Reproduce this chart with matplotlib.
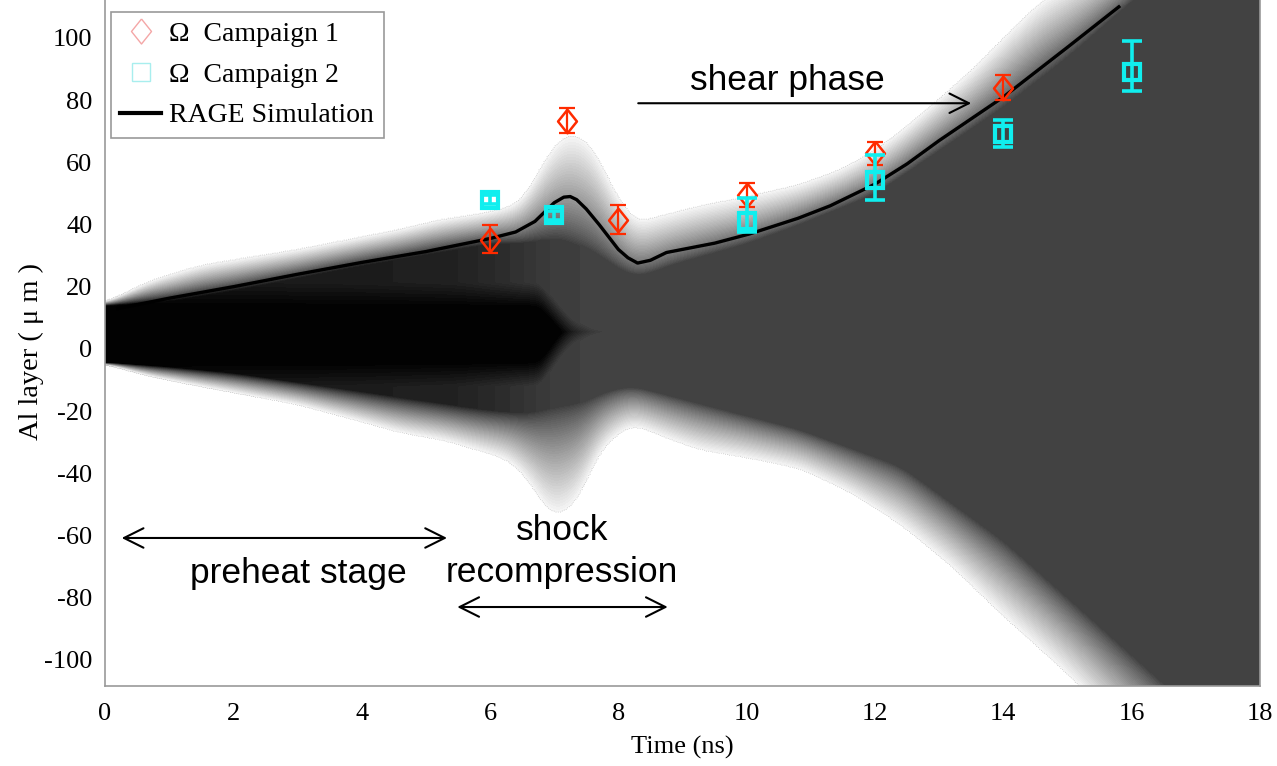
import numpy as np
import matplotlib.pyplot as plt
from matplotlib.lines import Line2D
from matplotlib.path import Path

# RAGE simulation (black line)
sim_t = [0.2, 1, 2, 3, 4, 5, 6, 6.4, 6.7, 6.85, 7.0, 7.15, 7.25, 7.35, 7.5, 7.7, 7.85, 8.0, 8.15, 8.3, 8.5, 8.75, 9.5, 10.05, 10.8, 11.3, 12, 12.5, 13, 13.5, 14, 14.5, 15, 15.8]
sim_y = [13, 16.3, 20, 24, 27.8, 31.3, 35.5, 37.6, 41, 44, 47, 48.8, 49, 48, 45, 40, 36, 32, 29.3, 27.6, 28.5, 31, 34, 37, 42, 46, 53, 59.5, 67, 74, 81, 89, 97, 110]

# Omega campaign 1 (red diamonds)
c1_t = [6, 7.2, 8, 10, 12, 14]
c1_y = [35, 73.3, 41.5, 49.5, 63, 84]
c1_lo = [4, 3.8, 4.5, 4, 4, 4]
c1_hi = [5, 4.2, 4.8, 3.8, 3.5, 4]

# Omega campaign 2 (cyan squares)
c2_t = [6, 7, 10, 12, 14, 16]
c2_y = [48, 43, 41, 54.3, 69, 89]
c2_lo = [1.5, 1.5, 3.5, 6.3, 4, 6]
c2_hi = [1.5, 1.5, 7.5, 8.1, 4.6, 10]

# background density field: edges of the mixing layer
up_t = [0, 0.7, 1.5, 3, 4.6, 5.2, 6, 6.5, 6.7, 7.0, 7.25, 7.6, 7.9, 8.26, 8.5, 9.27, 10.0, 10.8, 11.5, 12.0, 12.4, 12.8, 13.2, 13.6, 13.95, 14.6, 18]
up_out = [15, 22, 27, 32, 38.5, 41.5, 44, 47, 55, 66, 70, 66, 52, 40, 42, 46, 49, 52.7, 58, 64, 70, 77, 84, 91.5, 99, 112, 150]
upi_t = [0, 1, 2, 3, 4, 5, 6, 6.5, 7.1, 7.6, 8.0, 8.3, 8.8, 10, 10.8, 12, 13, 14, 15, 16, 18]
up_in = [14, 15.5, 19, 23, 27, 30.5, 34, 34, 36, 32, 26, 23, 27, 34, 40, 50, 64, 78, 94, 112, 145]

lo_t = [0, 0.7, 1.5, 3, 4, 4.6, 5.3, 6.3, 6.6, 6.9, 7.05, 7.4, 7.7, 8.2, 8.75, 9.27, 10.0, 10.83, 11.6, 12.4, 13.2, 13.95, 14.6, 15.2, 18]
lo_out = [-5, -9, -12.2, -18, -23.5, -27, -29.5, -35.7, -42, -52.7, -54.5, -48.5, -32.5, -24, -28.7, -32.5, -35, -38.5, -46, -56.5, -70, -85, -97, -108.5, -170]
loi_t = [0, 1, 2, 3, 4, 5, 6, 6.6, 7.0, 7.4, 7.8, 8.2, 8.75, 9.3, 10.8, 12.4, 14, 15.2, 16.5, 18]
lo_in = [-4.5, -6, -8, -11, -14, -17, -20, -21, -19, -18, -14, -12, -15, -18, -26, -38, -62, -84, -108, -135]

core_t = [0, 6.78, 7.12, 7.3, 7.6, 8.1]
core_top = [13.5, 13.5, 5.5, 1.5, -1.5, -3.5]
core_bot = [-4.5, -4.2, 5.5, 9.5, 12.5, 14.5]

gray_t = [0, 4, 5.5, 6.3, 7.0, 7.6, 18]
gray_v = [0.09, 0.11, 0.13, 0.18, 0.24, 0.255, 0.255]

tg = np.linspace(0, 18, 721)
yg = np.linspace(-110, 114, 700)
T, Y = np.meshgrid(tg, yg)


def smooth(v, sigma=6):
    k = np.exp(-0.5 * (np.arange(-3 * sigma, 3 * sigma + 1) / sigma) ** 2)
    k /= k.sum()
    p = np.pad(v, 3 * sigma, mode='edge')
    return np.convolve(p, k, mode='valid')


uo = smooth(np.interp(tg, up_t, up_out))
ui = smooth(np.interp(tg, upi_t, up_in))
lo = smooth(np.interp(tg, lo_t, lo_out))
li = smooth(np.interp(tg, loi_t, lo_in))
ct = smooth(np.interp(tg, core_t, core_top), 3)
cb = smooth(np.interp(tg, core_t, core_bot), 3)
base = smooth(np.interp(tg, gray_t, gray_v))

d = np.maximum(Y - ct, cb - Y)
val = base * np.clip(d / 8.0, 0, 1)
r_up = (Y - ui) / np.maximum(uo - ui, 0.5)
r_dn = (li - Y) / np.maximum(li - lo, 0.5)
r = np.maximum(r_up, r_dn)
inside = r < 1
val = val + (0.96 - val) * np.clip(r, 0, 1) ** 0.8
edge = np.where(inside, 0.0, 1.0)
val = np.where(inside, val, np.nan)

plt.rcParams['font.family'] = 'Liberation Serif'
plt.rcParams['axes.unicode_minus'] = False
fig = plt.figure(figsize=(12.77, 7.66), dpi=100)
ax = fig.add_axes([105 / 1277, 1 - 686 / 766, 1155 / 1277, 686 / 766])

ax.contourf(T, Y, val, levels=np.linspace(0, 1, 61), cmap='gray', vmin=0, vmax=1, zorder=0)
ax.contour(T, Y, edge, levels=[0.5], colors='#c8c8c8', linewidths=0.6, linestyles=':', zorder=1)

ax.plot(sim_t, sim_y, color='k', lw=2.4, zorder=3)

diamond = Path([(0, 1), (0.8, 0), (0, -1), (-0.8, 0), (0, 1)])
ax.errorbar(c1_t, c1_y, yerr=[c1_lo, c1_hi], fmt='none', ecolor='#ff2b00', elinewidth=1.6, capsize=6, capthick=1.6, zorder=4)
ax.plot(c1_t, c1_y, ls='none', marker=diamond, ms=17, mfc='none', mec='#ff2b00', mew=1.8, zorder=4)
ax.errorbar(c2_t, c2_y, yerr=[c2_lo, c2_hi], fmt='none', ecolor='#10eeee', elinewidth=2.6, capsize=7, capthick=2.6, zorder=5)
ax.plot(c2_t, c2_y, ls='none', marker='s', ms=12, mfc='none', mec='#10eeee', mew=3, zorder=5)

ax.set_xlim(0, 18)
ax.set_ylim(-108.4, 112.2)
ax.set_xticks(range(0, 19, 2))
ax.set_yticks(range(-100, 101, 20))
ax.tick_params(length=0, labelsize=19)
ax.tick_params(axis='x', pad=12)
ax.tick_params(axis='y', pad=9)
for s in ax.spines.values():
    s.set_color('#999999')
    s.set_linewidth(1.2)
ax.spines['top'].set_visible(False)
ax.set_xlabel('Time (ns)', fontsize=19, labelpad=8)
ax.set_ylabel('Al layer ( μ m )', fontsize=20.5)
ax.yaxis.set_label_coords(-0.053, 0.487)

sans = 'Liberation Sans'
ax.text(10.63, 83.3, 'shear phase', family=sans, fontsize=25.5, ha='center', va='baseline', zorder=6)
ax.text(3.01, -75.2, 'preheat stage', family=sans, fontsize=25.5, ha='center', va='baseline', zorder=6)
ax.text(7.12, -61.4, 'shock', family=sans, fontsize=25.5, ha='center', va='baseline', zorder=6)
ax.text(7.12, -74.9, 'recompression', family=sans, fontsize=25.5, ha='center', va='baseline', zorder=6)

arr = dict(lw=1.5, color='k', mutation_scale=20, shrinkA=0, shrinkB=0)
ax.annotate('', xy=(13.5, 79), xytext=(8.31, 79),
            arrowprops=dict(arrowstyle='->,head_length=0.7,head_width=0.35', **arr), zorder=6)
ax.annotate('', xy=(5.33, -60.8), xytext=(0.26, -60.8),
            arrowprops=dict(arrowstyle='<->,head_length=0.7,head_width=0.35', **arr), zorder=6)
ax.annotate('', xy=(8.77, -83), xytext=(5.49, -83),
            arrowprops=dict(arrowstyle='<->,head_length=0.7,head_width=0.35', **arr), zorder=6)

handles = [
    Line2D([], [], ls='none', marker=diamond, ms=18, mfc='none', mec='#f4a6a6', mew=1),
    Line2D([], [], ls='none', marker='s', ms=13, mfc='none', mec='#a8eeee', mew=1),
    Line2D([], [], color='k', lw=3),
]
labels = ['Ω  Campaign 1', 'Ω  Campaign 2', 'RAGE Simulation']
leg = ax.legend(handles, labels, loc='upper left', bbox_to_anchor=(0.005, 0.983), borderaxespad=0,
                fontsize=20, fancybox=False, edgecolor='#999999', framealpha=1,
                handlelength=1.45, handletextpad=0.3, labelspacing=0.55, borderpad=0.35)
leg.get_frame().set_linewidth(1.2)
leg.set_zorder(10)

fig.savefig('out.png', dpi=100)
